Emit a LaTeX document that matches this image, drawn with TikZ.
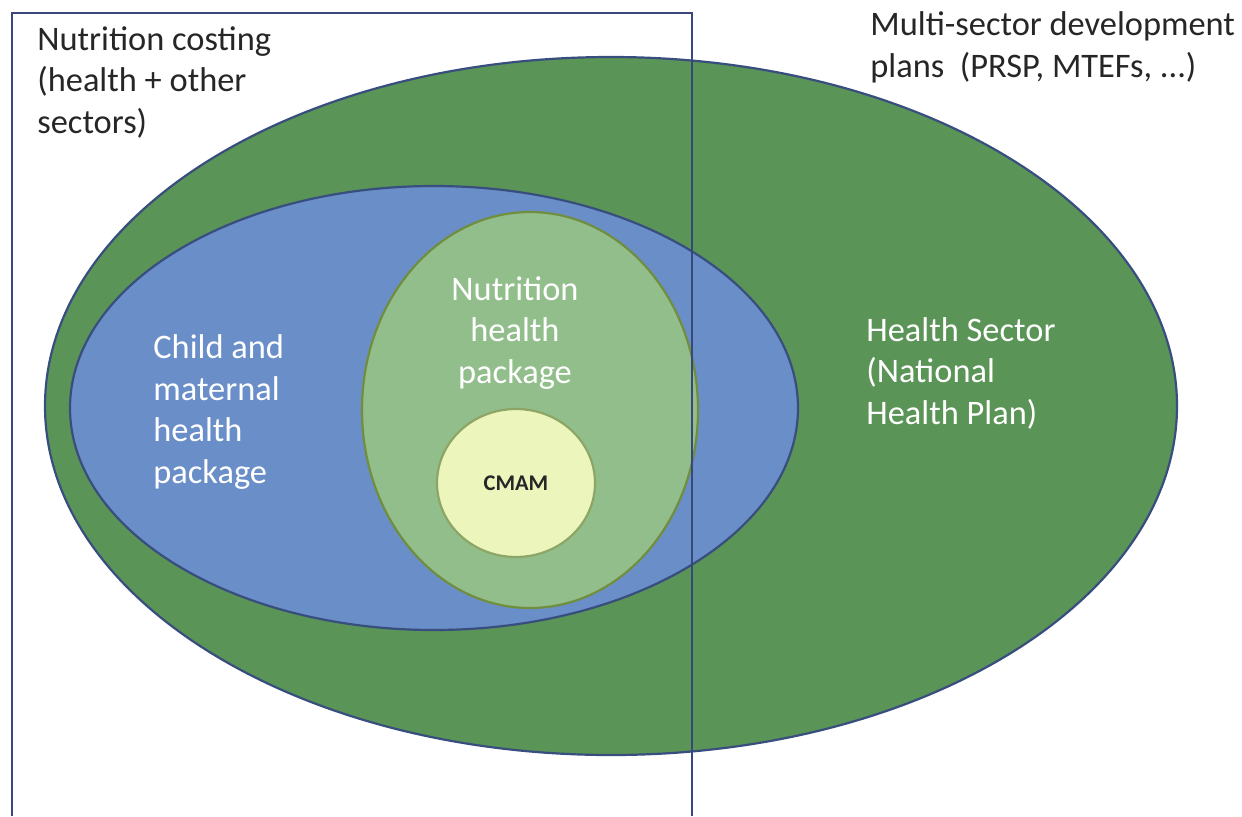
\documentclass[tikz,border=0pt]{standalone}
\usepackage{fontspec}
\setmainfont{Carlito}
\usetikzlibrary{shapes.geometric}
\definecolor{sectorgreen}{RGB}{90,148,86}
\definecolor{packageblue}{RGB}{106,142,200}
\definecolor{nutritiongreen}{RGB}{146,190,140}
\definecolor{cmamyellow}{RGB}{236,246,188}
\definecolor{rimblue}{RGB}{56,78,126}
\definecolor{rimolive}{RGB}{112,142,62}
\definecolor{framenavy}{RGB}{56,72,124}

\begin{document}
\begin{tikzpicture}[x=0.5pt,y=-0.5pt,
  zone/.style={ellipse,inner sep=0pt,line width=1.1pt},
  zonelabel/.style={font=\fontsize{17.2}{20.7}\selectfont,inner sep=0pt,text=white},
  outsidelabel/.style={font=\fontsize{17.2}{20.7}\selectfont,inner sep=0pt,text=black!85,align=left,anchor=base west}]
\useasboundingbox (0,0) rectangle (1242,816);
% nested zones, outermost first
\node[zone,draw=rimblue,fill=sectorgreen,minimum width=566pt,minimum height=349pt] (sector) at (611,406) {};
\node[zone,draw=rimblue,fill=packageblue,minimum width=364pt,minimum height=222pt] (childpack) at (434,408) {};
\node[zone,draw=rimolive,fill=nutritiongreen,minimum width=168pt,minimum height=198pt] (nutripack) at (530,410) {};
\node[zone,draw=rimolive!80,fill=cmamyellow,minimum width=79pt,minimum height=74pt,
  font=\fontsize{11.2}{13}\selectfont\bfseries,text=black!85] (cmam) at (516,483) {CMAM};
% costing frame, open at the bottom
\draw[framenavy,line width=1.4pt] (12,816) -- (12,13) -- (692,13) -- (692,816);
% labels (anchored at the baseline of the last line)
\node[outsidelabel] (costing) at (37,133) {Nutrition costing\\(health + other\\sectors)};
\node[outsidelabel] (multi) at (870,77) {Multi-sector development\\plans\ \ (PRSP, MTEFs, ...)};
\node[zonelabel,align=left,anchor=base west] (childlbl) at (153,483) {Child and\\maternal\\health\\package};
\node[zonelabel,align=center,anchor=base] (nutrilbl) at (515,383) {Nutrition\\health\\package};
\node[zonelabel,align=left,anchor=base west] (healthlbl) at (866,424) {Health Sector\\(National\\Health Plan)};
\end{tikzpicture}
\end{document}
